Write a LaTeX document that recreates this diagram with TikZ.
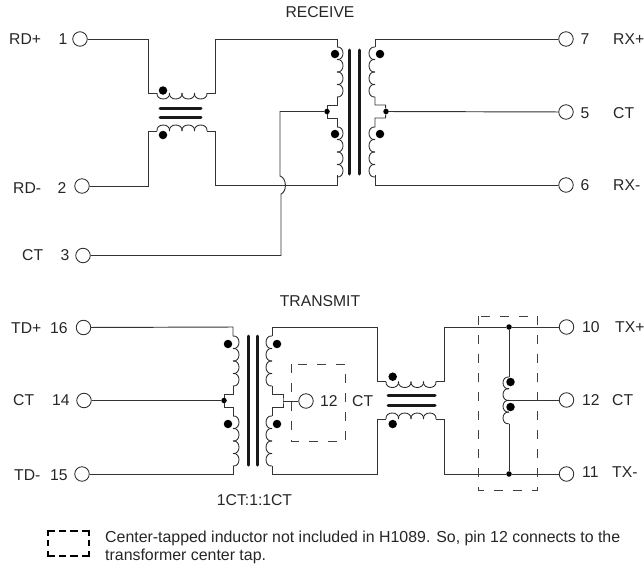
\documentclass[tikz,border=0pt]{standalone}
\usepackage{fontspec}
\setmainfont{Liberation Sans}
\newcommand{\coilV}[3]{% x, ystart, dir : four scallops downward
  \foreach \k in {0,1,2,3}{
    \draw[coil] (#1,{#2+\k*12.5}) .. controls ({#1+#3},{#2+\k*12.5-1}) and ({#1+#3},{#2+\k*12.5+13.5}) .. (#1,{#2+\k*12.5+12.5});
  }}
\newcommand{\coilH}[3]{% xstart, y, dir : four scallops rightward
  \foreach \k in {0,1,2,3}{
    \draw[coil] ({#1+\k*12.5},#2) .. controls ({#1+\k*12.5-1},{#2+#3}) and ({#1+\k*12.5+13.5},{#2+#3}) .. ({#1+\k*12.5+12.5},#2);
  }}
\tikzset{
  wire/.style={draw=black!80,line width=0.95pt,line join=miter},
  coil/.style={draw=black!85,line width=0.85pt},
  pin/.style={circle,draw=black!85,fill=white,line width=0.85pt,minimum size=14.5pt,inner sep=0pt},
  pol/.style={circle,fill=black,minimum size=8.5pt,inner sep=0pt},
  junc/.style={circle,fill=black,minimum size=5.5pt,inner sep=0pt},
  core/.style={draw=black!90,line width=3pt,line cap=round},
  dbox/.style={draw=black!75,line width=0.85pt,dash pattern=on 9pt off 10pt},
  legendh/.style={draw=black,line width=2pt,line cap=rect,dash pattern=on 5.5pt off 6pt},
  legendv/.style={draw=black,line width=2pt,line cap=rect,dash pattern=on 4pt off 6.5pt},
  lab/.style={inner sep=0pt,font=\fontsize{15.7}{18}\selectfont,text=black!85},
  note/.style={inner sep=0pt,anchor=west,font=\fontsize{15.9}{18}\selectfont,text=black!85}
}
\begin{document}
\begin{tikzpicture}[x=1pt,y=-1pt]
\useasboundingbox (0,0) rectangle (644,568);
% ---------- RECEIVE ----------
\node[lab] (recv) at (320,12) {RECEIVE};
\node[pin] (p1) at (80,39) {};
\node[pin] (p2) at (82,186) {};
\node[pin] (p3) at (83,255.5) {};
\node[pin] (p7) at (566,39) {};
\node[pin] (p5) at (566,112) {};
\node[pin] (p6) at (566,185) {};
\node[lab,anchor=west] (l1) at (9,39.5) {RD+};
\node[lab] (n1) at (63,39.5) {1};
\node[lab,anchor=west] (l2) at (13,188) {RD-};
\node[lab] (n2) at (62,188) {2};
\node[lab,anchor=west] (l3) at (22,255) {CT};
\node[lab] (n3) at (65,255) {3};
\node[lab] (n7) at (585,39.5) {7};
\node[lab] (n5) at (585,113) {5};
\node[lab] (n6) at (585,185) {6};
\node[lab,anchor=west] (l7) at (613,39.5) {RX+};
\node[lab,anchor=west] (l5) at (613,113) {CT};
\node[lab,anchor=west] (l6) at (613,185) {RX-};
% line transformer
\coordinate (a1) at (148,93);
\coordinate (a1i) at (157,93);
\coordinate (a2) at (215,93);
\coordinate (a2i) at (207,93);
\coordinate (a3) at (148,131);
\coordinate (a3i) at (157,131);
\coordinate (a4) at (215,131);
\coordinate (a4i) at (207,131);
\coordinate (a5) at (337,39);
\coordinate (a6) at (337,185);
\draw[wire] (p1) -| (a1) -- (a1i);
\draw[wire] (a2i) -- (a2) |- (a5) -- (337,47);
\draw[wire] (p2) -| (a3) -- (a3i);
\draw[wire] (a4i) -- (a4) |- (a6) -- (337,175);
\coilH{157}{93}{8}
\coilH{157}{131}{-8}
\draw[core] (160,108) -- (201,108);
\draw[core] (160,117) -- (201,117);
\node[pol] (d1) at (163,90.5) {};
\node[pol] (d2) at (163,135) {};
% main receive transformer
\coilV{337}{47}{8}
\coilV{337}{127}{8}
\coilV{375}{47}{-8}
\coilV{375}{127}{-8}
\draw[core] (349.5,50) -- (349.5,174);
\draw[core] (359.5,50) -- (359.5,174);
\node[pol] (d3) at (335,54) {};
\node[pol] (d4) at (335,134) {};
\node[pol] (d5) at (380,54) {};
\node[pol] (d6) at (380,134) {};
\node[junc] (j1) at (327,111.5) {};
\node[junc] (j2) at (386,111.5) {};
\draw[wire] (337,97) -- (337,105) -- (327,105) -- (j1) -- (327,118) -- (337,118) -- (337,127);
\draw[wire] (375,97) -- (375,105) -- (385.5,105) -- (j2) -- (385.5,118) -- (375,118) -- (375,127);
\draw[wire] (p7) -- (375,39) -- (375,47);
\draw[wire] (p6) -- (375,185) -- (375,175);
\draw[wire] (p5) -- (j2);
\coordinate (h1) at (280,176);
\coordinate (h2) at (281,194);
\draw[wire] (j1) -| (h1) .. controls (287,178) and (287,192) .. (h2) |- (p3);
% ---------- TRANSMIT ----------
\node[lab] (trans) at (320,301.5) {TRANSMIT};
\node[pin] (p16) at (83.5,327.5) {};
\node[pin] (p14) at (84,400.5) {};
\node[pin] (p15) at (82,474) {};
\node[pin] (p12a) at (306,401) {};
\node[pin] (p10) at (566.5,327) {};
\node[pin] (p12b) at (566.5,400) {};
\node[pin] (p11) at (566.5,474) {};
\node[lab,anchor=west] (l16) at (11,328) {TD+};
\node[lab,anchor=west] (n16) at (50,328) {16};
\node[lab,anchor=west] (l14) at (13,400.5) {CT};
\node[lab,anchor=west] (n14) at (52,400.5) {14};
\node[lab,anchor=west] (l15) at (14,475) {TD-};
\node[lab,anchor=west] (n15) at (50,475) {15};
\node[lab,anchor=west] (n12a) at (320,401) {12};
\node[lab,anchor=west] (l12a) at (352,401) {CT};
\node[lab,anchor=west] (n10) at (582,327) {10};
\node[lab,anchor=west] (l10) at (615,327) {TX+};
\node[lab,anchor=west] (n12b) at (582,400) {12};
\node[lab,anchor=west] (l12b) at (612,400) {CT};
\node[lab,anchor=west] (n11) at (582,472) {11};
\node[lab,anchor=west] (l11) at (612,472) {TX-};
\node[lab] (ratio) at (254.5,500) {1CT:1:1CT};
% main transmit transformer
\coilV{233}{336}{8}
\coilV{233}{416}{8}
\coilV{272}{336}{-8}
\coilV{272}{416}{-8}
\draw[core] (248,336) -- (248,465);
\draw[core] (257.5,336) -- (257.5,465);
\node[pol] (d7) at (228,344) {};
\node[pol] (d8) at (228,424) {};
\node[pol] (d9) at (277,344) {};
\node[pol] (d10) at (277,424) {};
\node[junc] (j3) at (224,400.5) {};
\coordinate (t1) at (233,327);
\coordinate (t2) at (233,474);
\coordinate (t3) at (283,401);
\draw[wire] (p16) -- (t1) -- (233,336);
\draw[wire] (p15) -- (t2) -- (233,466);
\draw[wire] (233,386) -- (233,394) -- (224,394) -- (j3) -- (224,407) -- (233,407) -- (233,416);
\draw[wire] (p14) -- (j3);
\draw[wire] (272,386) -- (272,394) -- (283,394) -- (t3) -- (283,407) -- (272,407) -- (272,416);
\draw[wire] (t3) -- (p12a);
% line transformer
\coordinate (b1) at (272,327);
\coordinate (b2) at (377,327);
\coordinate (b3) at (377,381.5);
\coordinate (b4) at (272,474);
\coordinate (b5) at (377,474);
\coordinate (b6) at (377,419);
\coordinate (b7) at (444,381.5);
\coordinate (b8) at (444,419);
\draw[wire] (272,336) -- (b1) -- (b2) -- (b3) -- (386,381.5);
\draw[wire] (272,466) -- (b4) -- (b5) -- (b6) -- (386,419);
\coilH{386}{381.5}{8}
\coilH{386}{419}{-8}
\draw[core] (388,395.7) -- (435,395.7);
\draw[core] (388,405) -- (435,405);
\node[pol] (d11) at (392.7,376.7) {};
\node[pol] (d12) at (392.7,424) {};
\node[junc] (j4) at (509,327) {};
\node[junc] (j5) at (509,474) {};
\coordinate (ct) at (509,400);
\draw[wire] (436,381.5) -- (b7) |- (j4) -- (p10);
\draw[wire] (436,419) -- (b8) |- (j5) -- (p11);
\draw[wire] (j4) -- (509,377);
\draw[wire] (509,424) -- (j5);
\draw[wire] (ct) -- (p12b);
\foreach \k in {0,1,2,3}{
  \draw[coil] (509,{377+\k*11.7}) .. controls (501,{376+\k*11.7}) and (501,{389.7+\k*11.7}) .. (509,{388.7+\k*11.7});
}
\node[pol] (d13) at (510.5,382) {};
\node[pol] (d14) at (510.5,407) {};
% dashed boxes
\draw[dbox] (291.5,364) rectangle (345,441.7);
\draw[dbox] (478.3,316) rectangle (537.3,490.7);
% legend
\coordinate (la) at (48,530.7);
\coordinate (lb) at (89,530.7);
\coordinate (lc) at (89,555.7);
\coordinate (ld) at (48,555.7);
\draw[legendh] (la) -- (lb);
\draw[legendh] (ld) -- (lc);
\draw[legendv] (la) -- (ld);
\draw[legendv] (lb) -- (lc);
\node[note] (t1a) at (105,538) {Center-tapped inductor not included in H1089. So, pin 12 connects to the};
\node[note] (t1b) at (105,556) {transformer center tap.};
\end{tikzpicture}
\end{document}
